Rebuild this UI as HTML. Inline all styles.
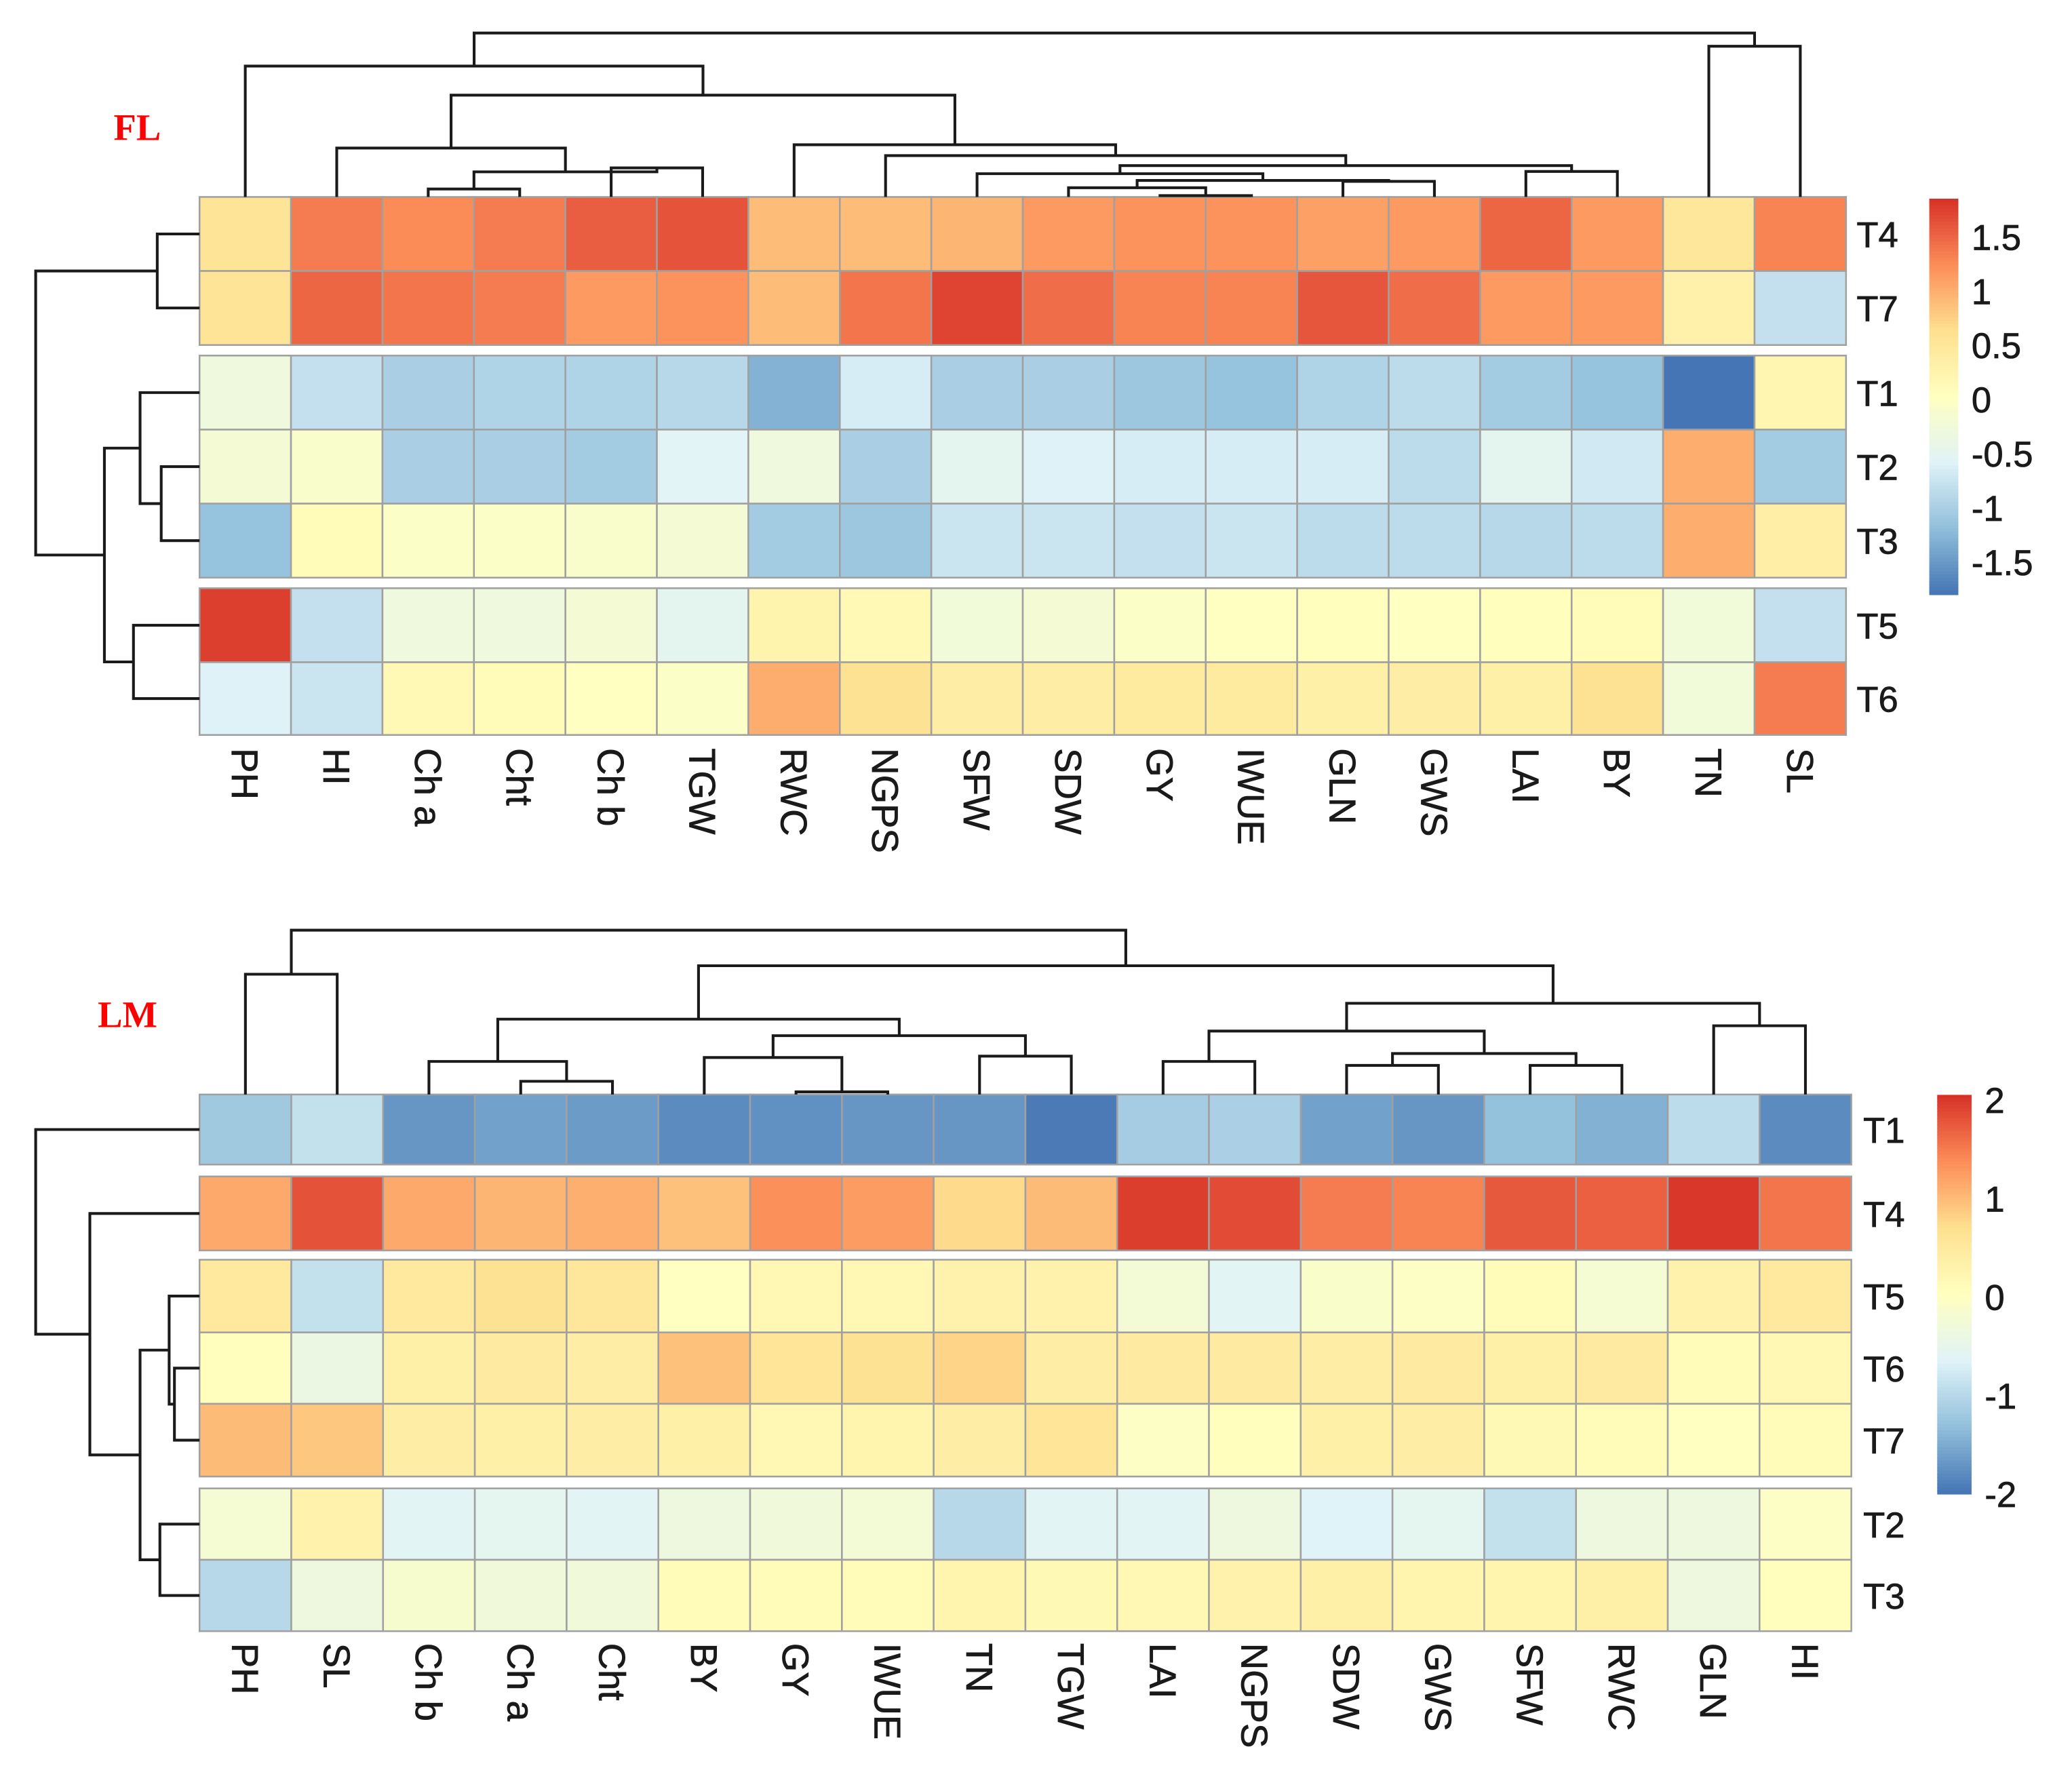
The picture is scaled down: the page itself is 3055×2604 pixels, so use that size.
<!DOCTYPE html>
<html><head><meta charset="utf-8"><style>
html,body{margin:0;padding:0;background:#fff;}
svg{display:block;}
</style></head><body>
<svg id="chart" width="3055" height="2604" viewBox="0 0 1568 1336" preserveAspectRatio="none" xmlns="http://www.w3.org/2000/svg" font-family="'Liberation Sans', sans-serif"></svg>
<script>
// ---------- FL panel data ----------
const flCols = ["PH","HI","Ch a","Cht","Ch b","TGW","RWC","NGPS","SFW","SDW","GY","IWUE","GLN","GWS","LAI","BY","TN","SL"];
const flRows = ["T4","T7","T1","T2","T3","T5","T6"];
const flT4 = [0.55,1.35,1.25,1.35,1.55,1.62,0.9,0.9,0.95,1.15,1.2,1.2,1.1,1.15,1.5,1.15,0.5,1.3];
const flT7 = [0.55,1.5,1.4,1.35,1.15,1.2,0.9,1.4,1.72,1.45,1.3,1.3,1.6,1.45,1.15,1.15,0.3,-0.8];
const flT1 = [-0.3,-0.8,-1.0,-0.95,-0.95,-0.9,-1.3,-0.65,-1.0,-1.0,-1.1,-1.15,-0.95,-0.85,-1.05,-1.15,-1.8,0.2];
const flT2 = [-0.2,-0.1,-1.0,-1.0,-1.05,-0.55,-0.3,-1.0,-0.5,-0.6,-0.65,-0.65,-0.65,-0.85,-0.5,-0.7,1.0,-1.05];
const flT3 = [-1.15,0.1,-0.05,-0.05,-0.1,-0.2,-1.05,-1.1,-0.75,-0.75,-0.8,-0.75,-0.85,-0.85,-0.9,-0.85,1.0,0.35];
const flT5 = [1.75,-0.8,-0.3,-0.3,-0.2,-0.5,0.25,0.15,-0.25,-0.2,-0.05,0.0,0.05,0.0,0.05,0.1,-0.25,-0.8];
const flT6 = [-0.6,-0.75,0.15,0.1,0.0,-0.05,1.0,0.6,0.38,0.38,0.42,0.42,0.32,0.38,0.32,0.6,-0.25,1.35];
const flTicks = [1.5,1,0.5,0,-0.5,-1,-1.5];
const flTickLabels = ["1.5","1","0.5","0","-0.5","-1","-1.5"];

// ---------- LM panel data ----------
const lmCols = ["PH","SL","Ch b","Ch a","Cht","BY","GY","IWUE","TN","TGW","LAI","NGPS","SDW","GWS","SFW","RWC","GLN","HI"];
const lmRows = ["T1","T4","T5","T6","T7","T2","T3"];
const lmT1 = [-1.2,-0.9,-1.7,-1.6,-1.65,-1.8,-1.75,-1.7,-1.7,-1.95,-1.15,-1.1,-1.6,-1.7,-1.3,-1.45,-0.95,-1.8];
const lmT4 = [1.15,1.8,1.15,1.05,1.1,0.95,1.35,1.25,0.75,1.0,1.95,1.85,1.5,1.45,1.75,1.7,2.0,1.55];
const lmT5 = [0.5,-0.9,0.5,0.65,0.55,0.0,0.2,0.2,0.3,0.3,-0.25,-0.6,-0.1,-0.05,0.1,-0.2,0.3,0.5];
const lmT6 = [0.05,-0.4,0.35,0.45,0.4,0.95,0.6,0.65,0.8,0.4,0.45,0.45,0.4,0.45,0.35,0.45,0.1,0.2];
const lmT7 = [1.0,0.9,0.4,0.35,0.4,0.35,0.2,0.25,0.4,0.6,-0.05,0.05,0.35,0.4,0.15,0.1,0.0,0.1];
const lmT2 = [-0.2,0.3,-0.6,-0.55,-0.6,-0.35,-0.3,-0.25,-1.0,-0.6,-0.6,-0.35,-0.65,-0.55,-0.9,-0.35,-0.35,-0.05];
const lmT3 = [-1.0,-0.35,-0.15,-0.3,-0.3,0.1,0.1,0.1,0.25,0.15,0.2,0.3,0.35,0.25,0.25,0.35,-0.35,0.05];
const lmTicks = [2,1,0,-1,-2];
const lmTickLabels = ["2","1","0","-1","-2"];

// dendrogram merges: [childA, childB, height]; children = leaf index or "nK"
const flColTree = [[2,3,143],[4,5,127],["n0","n1",130],[1,"n2",112],[10,11,148],[9,"n4",142],[12,13,137.2],["n5","n6",136.5],[8,"n7",131.4],[14,15,129.7],["n8","n9",125.3],[7,"n10",117.7],[6,"n11",109.5],["n3","n12",72],[0,"n13",50],[16,17,35],["n14","n15",25]];
const flRowTree = [[0,1,119],[3,4,122],[2,"n1",106],[5,6,101],["n2","n3",79],["n0","n4",27]];
const lmColTree = [[3,4,818],[2,"n0",803],[6,7,826],[5,"n2",800],[8,9,799],["n3","n4",783.5],["n1","n5",771],[10,11,803],[12,13,806],[14,15,806],["n8","n9",797],["n7","n10",780],[16,17,776],["n11","n12",759],["n6","n13",730.6],[0,1,737],["n15","n14",703.7]];
const lmRowTree = [[3,4,132],[2,"n0",128],[5,6,121],["n1","n2",106],[1,"n3",68],[0,"n4",27]];

const NS = "http://www.w3.org/2000/svg";
const svg = document.getElementById("chart");
const pal = ["#4575B4","#91BFDB","#E0F3F8","#FFFFBF","#FEE090","#FC8D59","#D73027"];
function hex(c){return [parseInt(c.slice(1,3),16),parseInt(c.slice(3,5),16),parseInt(c.slice(5,7),16)];}
function colorFor(v,lo,hi){
  let t=(v-lo)/(hi-lo); t=Math.max(0,Math.min(1,t));
  const p=t*(pal.length-1); const i=Math.min(Math.floor(p),pal.length-2); const f=p-i;
  const a=hex(pal[i]), b=hex(pal[i+1]);
  return "rgb("+a.map((x,k)=>Math.round(x+(b[k]-x)*f)).join(",")+")";
}
function mk(tag,attrs,parent){const e=document.createElementNS(NS,tag);for(const k in attrs)e.setAttribute(k,attrs[k]);(parent||svg).appendChild(e);return e;}

let leafEdgeV=149, leafEdgeH=151;
function drawTree(tree,leafPos,vertical,g){
  const nodes=[]; const pos=c=>typeof c==="number"?{p:leafPos[c],h:null}:nodes[+c.slice(1)];
  tree.forEach(([a,b,h])=>{
    const A=pos(a),B=pos(b);
    const ha=A.h===null?(vertical?leafEdgeV:leafEdgeH):A.h;
    const hb=B.h===null?(vertical?leafEdgeV:leafEdgeH):B.h;
    let d;
    if(vertical) d=`M${A.p},${ha}V${h}H${B.p}V${hb}`;
    else d=`M${ha},${A.p}H${h}V${B.p}H${hb}`;
    const path=mk("path",{d:d,fill:"none",stroke:"#1a1a1a","stroke-width":2.1},g);
    
    
    nodes.push({p:(A.p+B.p)/2,h:h});
  });
}

function panel(o){
  const g=mk("g",{});
  
  
  const cw=(o.x1-o.x0)/o.cols.length;
  const colC=o.cols.map((_,i)=>o.x0+cw*(i+0.5));
  o.rows.forEach((r,ri)=>{
    const [y0,y1]=o.rowY[ri];
    o.data[ri].forEach((v,ci)=>{
      const c=mk("rect",{x:o.x0+cw*ci,y:y0,width:cw,height:y1-y0,fill:colorFor(v,o.lo,o.hi),stroke:"#a0a0a0","stroke-width":1.3},g);
      
      
    });
    const t=mk("text",{x:o.rowLabelX,y:(y0+y1)/2+10,"font-size":27,fill:"#1a1a1a",stroke:"#1a1a1a","stroke-width":0.4},g);
    t.textContent=r;
    
    
  });
  o.cols.forEach((c,ci)=>{
    const x=colC[ci]-10, y=o.labelY;
    const t=mk("text",{x:x,y:y,transform:`rotate(90 ${x} ${y})`,"font-size":28,fill:"#1a1a1a",stroke:"#1a1a1a","stroke-width":0.4},g);
    t.textContent=c;
    
    
  });
  leafEdgeV=o.rowY[0][0]; leafEdgeH=o.x0;
  const dg=mk("g",{},g);
  
  
  drawTree(o.colTree,colC,true,dg);
  const rg=mk("g",{},g);
  
  
  drawTree(o.rowTree,o.rowY.map(r=>(r[0]+r[1])/2),false,rg);
  const cb=mk("g",{},g);
  
  
  const yOf=v=>o.cbZero-v*o.cbUnit;
  const n=120, top=yOf(o.hi), bot=yOf(o.lo);
  for(let i=0;i<n;i++){
    const v=o.hi-(o.hi-o.lo)*(i+0.5)/n;
    const s=mk("rect",{x:o.cbX,y:top+(bot-top)*i/n,width:o.cbW,height:(bot-top)/n+0.6,fill:colorFor(v,o.lo,o.hi)},cb);
    
    
  }
  o.ticks.forEach((v,i)=>{
    const t=mk("text",{x:o.cbX+o.cbW+10,y:yOf(v)+10,"font-size":27,fill:"#1a1a1a",stroke:"#1a1a1a","stroke-width":0.4},cb);
    t.textContent=o.tickLabels[i];
    
    
  });
  const tl=mk("text",{x:o.titleX,y:o.titleY,"font-size":28,"font-weight":"bold",fill:"#ff0000","font-family":"'Liberation Serif', serif"},g);
  tl.textContent=o.title;
  
  
}

panel({name:"fl-heatmap",title:"FL",titleX:86,titleY:106,cols:flCols,rows:flRows,
  data:[flT4,flT7,flT1,flT2,flT3,flT5,flT6],x0:151,x1:1397,
  rowY:[[149,205],[205,261],[269,325],[325,381],[381,437],[445,501],[501,556]],
  rowLabelX:1405,labelY:566,lo:-1.8,hi:1.85,cbX:1460,cbW:22,cbZero:302,cbUnit:82,
  ticks:flTicks,tickLabels:flTickLabels,colTree:flColTree,rowTree:flRowTree});
panel({name:"lm-heatmap",title:"LM",titleX:74,titleY:777,cols:lmCols,rows:lmRows,
  data:[lmT1,lmT4,lmT5,lmT6,lmT7,lmT2,lmT3],x0:151,x1:1401,
  rowY:[[828,881],[890,946],[953,1008],[1008,1062],[1062,1117],[1126,1180],[1180,1234]],
  rowLabelX:1410,labelY:1243,lo:-2,hi:2.05,cbX:1466,cbW:26,cbZero:981,cbUnit:74.5,
  ticks:lmTicks,tickLabels:lmTickLabels,colTree:lmColTree,rowTree:lmRowTree});
</script>
</body></html>
